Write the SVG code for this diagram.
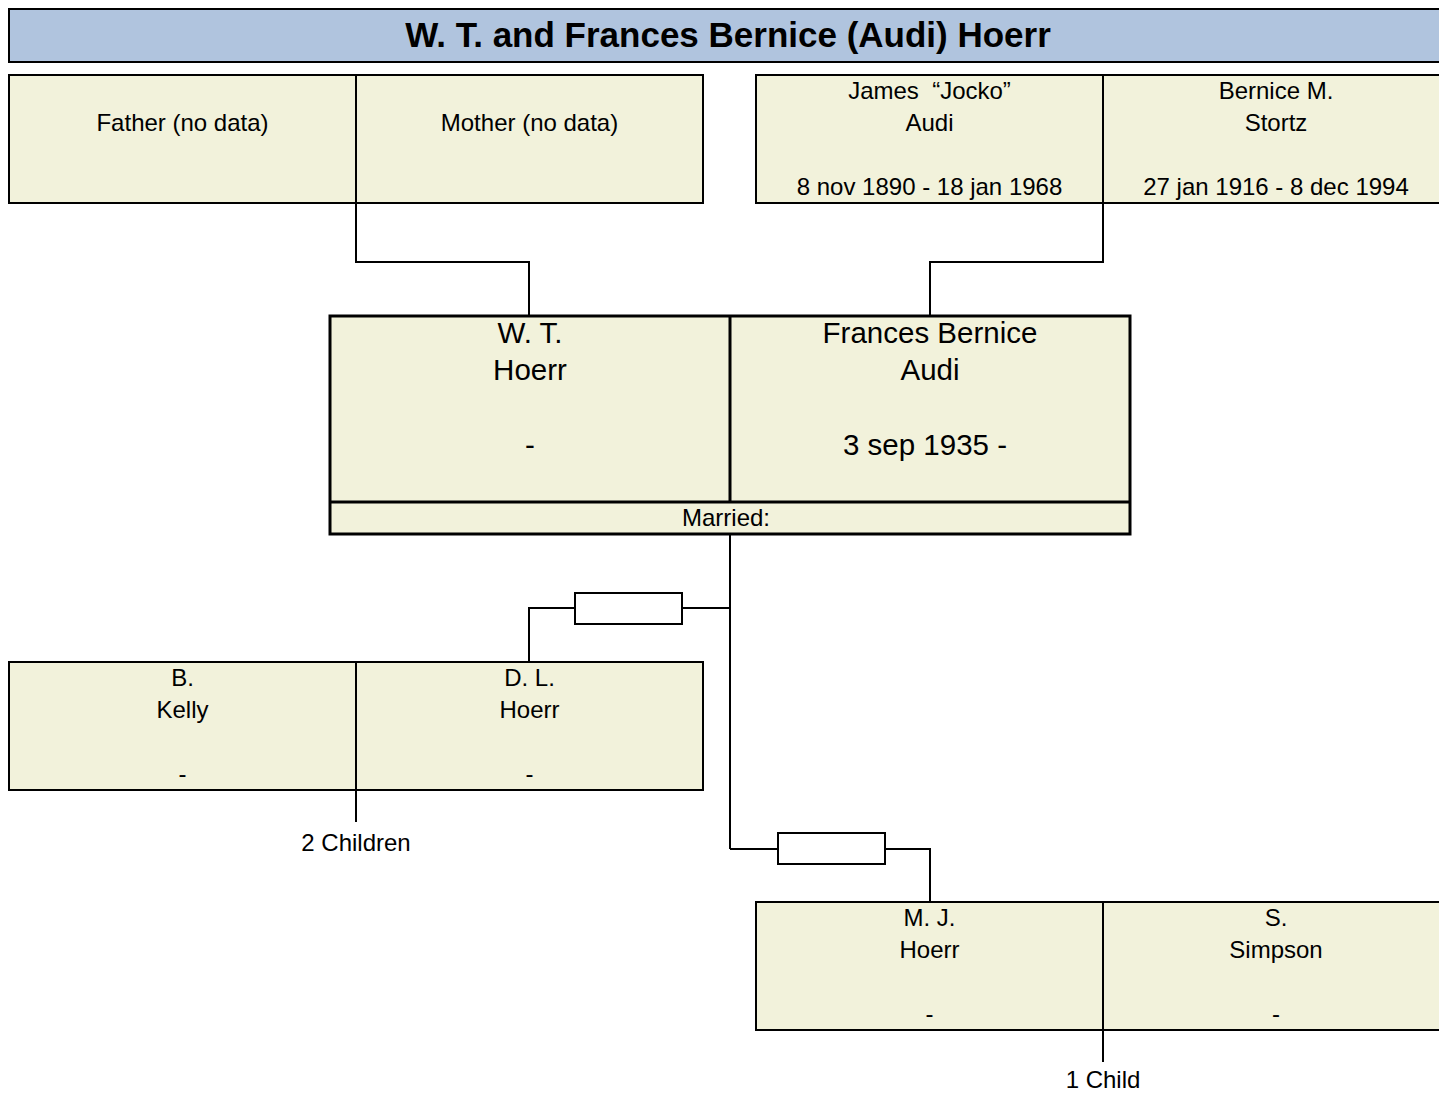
<svg xmlns="http://www.w3.org/2000/svg" width="1439" height="1093" viewBox="0 0 1439 1093">
<style>
text{font-family:"Liberation Sans",Arial,sans-serif;fill:#000;text-anchor:middle}
.t{font-size:35px;font-weight:bold}
.s{font-size:24px}
.b{font-size:29.5px}
.box{fill:#F2F2DB;stroke:#000;stroke-width:2}
.mbox{fill:#F2F2DB;stroke:#000;stroke-width:3}
.ln{fill:none;stroke:#000;stroke-width:2}
.sm{fill:#fff;stroke:#000;stroke-width:2}
</style>
<rect width="1439" height="1093" fill="#fff"/>
<g id="title">
<rect x="9" y="9" width="1445" height="53" fill="#B0C4DE" stroke="#000" stroke-width="2"/>
<text class="t" x="728" y="47">W. T. and Frances Bernice (Audi) Hoerr</text>
</g>
<g id="connectors">
<polyline class="ln" points="356,203 356,262 529,262 529,316"/>
<polyline class="ln" points="1103,203 1103,262 930,262 930,316"/>
<line class="ln" x1="730" y1="534" x2="730" y2="849"/>
<polyline class="ln" points="730,608 682,608"/>
<polyline class="ln" points="575,608 529,608 529,662"/>
<rect class="sm" x="575" y="593" width="107" height="31"/>
<polyline class="ln" points="730,849 778,849"/>
<polyline class="ln" points="885,849 930,849 930,902"/>
<rect class="sm" x="778" y="833" width="107" height="31"/>
<line class="ln" x1="356" y1="790" x2="356" y2="822"/>
<line class="ln" x1="1103" y1="1030" x2="1103" y2="1062"/>
</g>
<g id="father">
<rect class="box" x="9" y="75" width="347" height="128"/>
<text class="s" x="182.5" y="131">Father (no data)</text>
</g>
<g id="mother">
<rect class="box" x="356" y="75" width="347" height="128"/>
<text class="s" x="529.5" y="131">Mother (no data)</text>
</g>
<g id="james">
<rect class="box" x="756" y="75" width="347" height="128"/>
<text class="s" x="929.5" y="99">James &#160;“Jocko”</text>
<text class="s" x="929.5" y="131">Audi</text>
<text class="s" x="929.5" y="195">8 nov 1890 - 18 jan 1968</text>
</g>
<g id="bernice">
<rect class="box" x="1103" y="75" width="347" height="128"/>
<text class="s" x="1276" y="99">Bernice M.</text>
<text class="s" x="1276" y="131">Stortz</text>
<text class="s" x="1276" y="195">27 jan 1916 - 8 dec 1994</text>
</g>
<g id="couple">
<rect class="mbox" x="330" y="316" width="800" height="218"/>
<line x1="730" y1="316" x2="730" y2="502" stroke="#000" stroke-width="3"/>
<line x1="330" y1="502" x2="1130" y2="502" stroke="#000" stroke-width="3"/>
<text class="b" x="530" y="343">W. T.</text>
<text class="b" x="530" y="380">Hoerr</text>
<text class="b" x="530" y="455">-</text>
<text class="b" x="930" y="343">Frances Bernice</text>
<text class="b" x="930" y="380">Audi</text>
<text class="b" x="925" y="455">3 sep 1935 -</text>
<text class="s" x="726" y="526">Married:</text>
</g>
<g id="kelly">
<rect class="box" x="9" y="662" width="347" height="128"/>
<text class="s" x="182.5" y="686">B.</text>
<text class="s" x="182.5" y="718">Kelly</text>
<text class="s" x="182.5" y="782">-</text>
</g>
<g id="dl">
<rect class="box" x="356" y="662" width="347" height="128"/>
<text class="s" x="529.5" y="686">D. L.</text>
<text class="s" x="529.5" y="718">Hoerr</text>
<text class="s" x="529.5" y="782">-</text>
</g>
<text class="s" x="356" y="851">2 Children</text>
<g id="mj">
<rect class="box" x="756" y="902" width="347" height="128"/>
<text class="s" x="929.5" y="926">M. J.</text>
<text class="s" x="929.5" y="958">Hoerr</text>
<text class="s" x="929.5" y="1022">-</text>
</g>
<g id="simpson">
<rect class="box" x="1103" y="902" width="347" height="128"/>
<text class="s" x="1276" y="926">S.</text>
<text class="s" x="1276" y="958">Simpson</text>
<text class="s" x="1276" y="1022">-</text>
</g>
<text class="s" x="1103" y="1088">1 Child</text>
</svg>
